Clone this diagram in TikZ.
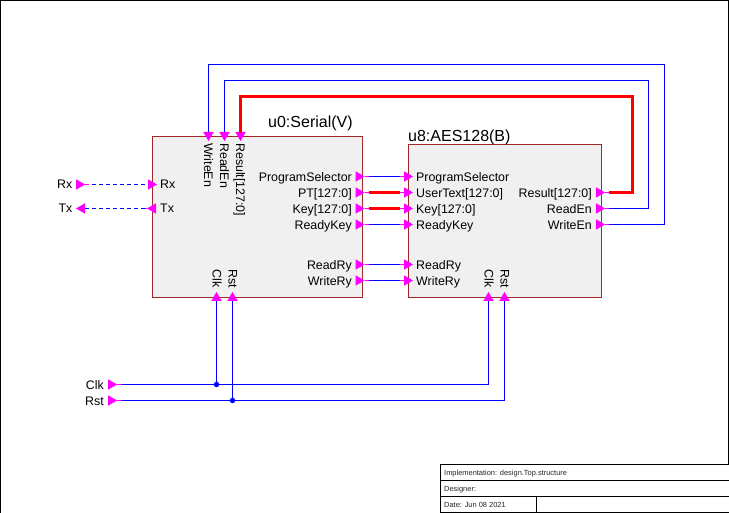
\documentclass[tikz,border=0pt]{standalone}
\usepackage{fontspec}
\setmainfont{Liberation Sans}
\usetikzlibrary{shapes.geometric}
\definecolor{wireblue}{RGB}{0,0,255}
\definecolor{pinmag}{RGB}{255,0,255}
\definecolor{boxedge}{RGB}{160,40,40}
\definecolor{boxfill}{RGB}{240,240,240}
\tikzset{
  blockbox/.style={draw=boxedge,fill=boxfill,line width=1pt,anchor=north west,inner sep=0pt},
  wire/.style={draw=wireblue,line width=1.2pt},
  buswire/.style={draw=red,line width=3.8pt,line cap=butt},
  dashwire/.style={wire,dash pattern=on 4pt off 3pt},
  pintri/.style={isosceles triangle,isosceles triangle stretches,fill=pinmag,inner sep=0pt,minimum width=10.5pt,minimum height=9pt,outer sep=0pt},
  stemline/.style={draw=pinmag,line width=1.2pt},
  lab/.style={font=\fontsize{12.4}{12.4}\selectfont,inner sep=0pt,text=black},
  inst/.style={font=\fontsize{16}{16}\selectfont,inner sep=0pt,text=black,anchor=base west},
  dot/.style={circle,fill=wireblue,inner sep=0pt,minimum size=5.5pt},
  frameline/.style={draw=black,line width=1pt},
  tblabel/.style={font=\fontsize{7.45}{8}\selectfont,inner sep=0pt,anchor=base west,text=black!85}
}
\newcommand\pinnode[3]{\node[pintri,shape border rotate=#3,anchor=apex] (#1) at (#2) {};}
\begin{document}
\begin{tikzpicture}[x=1pt,y=-1pt]
\useasboundingbox (0,0) rectangle (729,513);
\fill[white] (0,0) rectangle (729,513);
\draw[frameline] (0.5,0.5) -- (728.5,0.5) -- (728.5,464);
\draw[frameline] (0.5,0.5) -- (0.5,513);
% blocks
\node[blockbox,minimum width=209.5pt,minimum height=161pt] (u0) at (152,136) {};
\node[blockbox,minimum width=193pt,minimum height=153pt] (u8) at (408,144) {};
\node[inst] (u0t) at (268,127.5) {u0:Serial(V)};
\node[inst] (u8t) at (408,142) {u8:AES128(B)};
% pins u0 right
\pinnode{aPS}{364.5,176.5}{0}
\pinnode{aPT}{364.5,192.5}{0}
\pinnode{aKey}{364.5,208.5}{0}
\pinnode{aRK}{364.5,224.5}{0}
\pinnode{aRR}{364.5,264.5}{0}
\pinnode{aWR}{364.5,280.5}{0}
% pins u8 left
\pinnode{bPS}{413,176.5}{0}
\pinnode{bUT}{413,192.5}{0}
\pinnode{bKey}{413,208.5}{0}
\pinnode{bRK}{413,224.5}{0}
\pinnode{bRR}{413,264.5}{0}
\pinnode{bWR}{413,280.5}{0}
% pins u8 right
\pinnode{bRes}{605,192.5}{0}
\pinnode{bRE}{605,208.5}{0}
\pinnode{bWE}{605,224.5}{0}
% pins u0 top
\pinnode{aWE}{208.5,141}{270}
\pinnode{aRE}{224.5,141}{270}
\pinnode{aRes}{240.5,141}{270}
% pins bottom
\pinnode{aClk}{216.5,292}{90}
\pinnode{aRst}{232.5,292}{90}
\pinnode{bClk}{488.5,292}{90}
\pinnode{bRst}{504.5,292}{90}
% pins external and serial
\pinnode{xRx}{85,184.5}{0}
\pinnode{xTx}{76,208.5}{180}
\pinnode{aRx}{157,184.5}{0}
\pinnode{aTx}{147,208.5}{180}
\pinnode{xClk}{117,384.5}{0}
\pinnode{xRst}{117,400.5}{0}
% corners
\coordinate (cW) at (664.5,64.5);
\coordinate (cR) at (648.5,80.5);
\coordinate (cB) at (632.5,96.5);
% wires
\draw[wire] (aPS.apex) -- (bPS.lower side);
\draw[wire] (aRK.apex) -- (bRK.lower side);
\draw[wire] (aRR.apex) -- (bRR.lower side);
\draw[wire] (aWR.apex) -- (bWR.lower side);
\draw[buswire] ([xshift=4pt]aPT.apex) -- ([xshift=-4pt]bUT.lower side);
\draw[buswire] ([xshift=4pt]aKey.apex) -- ([xshift=-4pt]bKey.lower side);
\draw[buswire,line join=miter] ([yshift=-1pt]aRes.lower side) |- (cB) |- ([xshift=4pt]bRes.apex);
\draw[wire] (aWE.lower side) |- (cW) |- (bWE.apex);
\draw[wire] (aRE.lower side) |- (cR) |- (bRE.apex);
\draw[dashwire] (xRx.apex) -- (aRx.lower side);
\draw[dashwire] (xTx.lower side) -- (aTx.apex);
\draw[wire] (xClk.apex) -| (bClk.lower side);
\draw[wire] (xRst.apex) -| (bRst.lower side);
\node[dot] (jClk) at (216.5,384.5) {};
\node[dot] (jRst) at (232.5,400.5) {};
\draw[wire] (jClk) -- (aClk.lower side);
\draw[wire] (jRst) -- (aRst.lower side);
% stems
\foreach \p in {aPS,aPT,aKey,aRK,aRR,aWR,bRes,bRE,bWE,xRx,xClk,xRst}{\draw[stemline] (\p.apex) -- ++(4,0);}
\foreach \p in {bPS,bUT,bKey,bRK,bRR,bWR}{\draw[stemline] (\p.lower side) -- ++(-4,0);}
\draw[stemline] (aTx.apex) -- ++(-2,0);
% labels u0
\node[lab,anchor=base east] (l1) at (352,181.5) {ProgramSelector};
\node[lab,anchor=base east] (l2) at (352,197.5) {PT[127:0]};
\node[lab,anchor=base east] (l3) at (352,213.5) {Key[127:0]};
\node[lab,anchor=base east] (l4) at (352,229.5) {ReadyKey};
\node[lab,anchor=base east] (l5) at (352,269.5) {ReadRy};
\node[lab,anchor=base east] (l6) at (352,285.5) {WriteRy};
\node[lab,anchor=base west] (l7) at (160,189) {Rx};
\node[lab,anchor=base west] (l8) at (160,213) {Tx};
\node[lab,rotate=-90,anchor=base west] (l9) at (204,143) {WriteEn};
\node[lab,rotate=-90,anchor=base west] (l10) at (220,143) {ReadEn};
\node[lab,rotate=-90,anchor=base west] (l11) at (236,143) {Result[127:0]};
\node[lab,rotate=-90,anchor=base east] (l12) at (212.5,288) {Clk};
\node[lab,rotate=-90,anchor=base east] (l13) at (228.5,288) {Rst};
% labels u8
\node[lab,anchor=base west] (m1) at (416,181.5) {ProgramSelector};
\node[lab,anchor=base west] (m2) at (416,197.5) {UserText[127:0]};
\node[lab,anchor=base west] (m3) at (416,213.5) {Key[127:0]};
\node[lab,anchor=base west] (m4) at (416,229.5) {ReadyKey};
\node[lab,anchor=base west] (m5) at (416,269.5) {ReadRy};
\node[lab,anchor=base west] (m6) at (416,285.5) {WriteRy};
\node[lab,anchor=base east] (m7) at (592,197.5) {Result[127:0]};
\node[lab,anchor=base east] (m8) at (592,213.5) {ReadEn};
\node[lab,anchor=base east] (m9) at (592,229.5) {WriteEn};
\node[lab,rotate=-90,anchor=base east] (m10) at (484.5,288) {Clk};
\node[lab,rotate=-90,anchor=base east] (m11) at (500.5,288) {Rst};
% external labels
\node[lab,anchor=base east] (e1) at (72.5,189) {Rx};
\node[lab,anchor=base east] (e2) at (72.5,213) {Tx};
\node[lab,anchor=base east] (e3) at (104,389) {Clk};
\node[lab,anchor=base east] (e4) at (104,405) {Rst};
% title block
\draw[frameline] (440.5,513) -- (440.5,464.5) -- (729,464.5);
\draw[frameline] (440.5,480.5) -- (729,480.5);
\draw[frameline] (440.5,496.5) -- (729,496.5);
\draw[frameline] (536.5,496.5) -- (536.5,513);
\draw[frameline] (440.5,512.5) -- (729,512.5);
\node[tblabel] (t1) at (444,475) {Implementation: design.Top.structure};
\node[tblabel] (t2) at (444,491.5) {Designer:};
\node[tblabel] (t3) at (444,507.5) {Date: Jun 08 2021};
\end{tikzpicture}
\end{document}
